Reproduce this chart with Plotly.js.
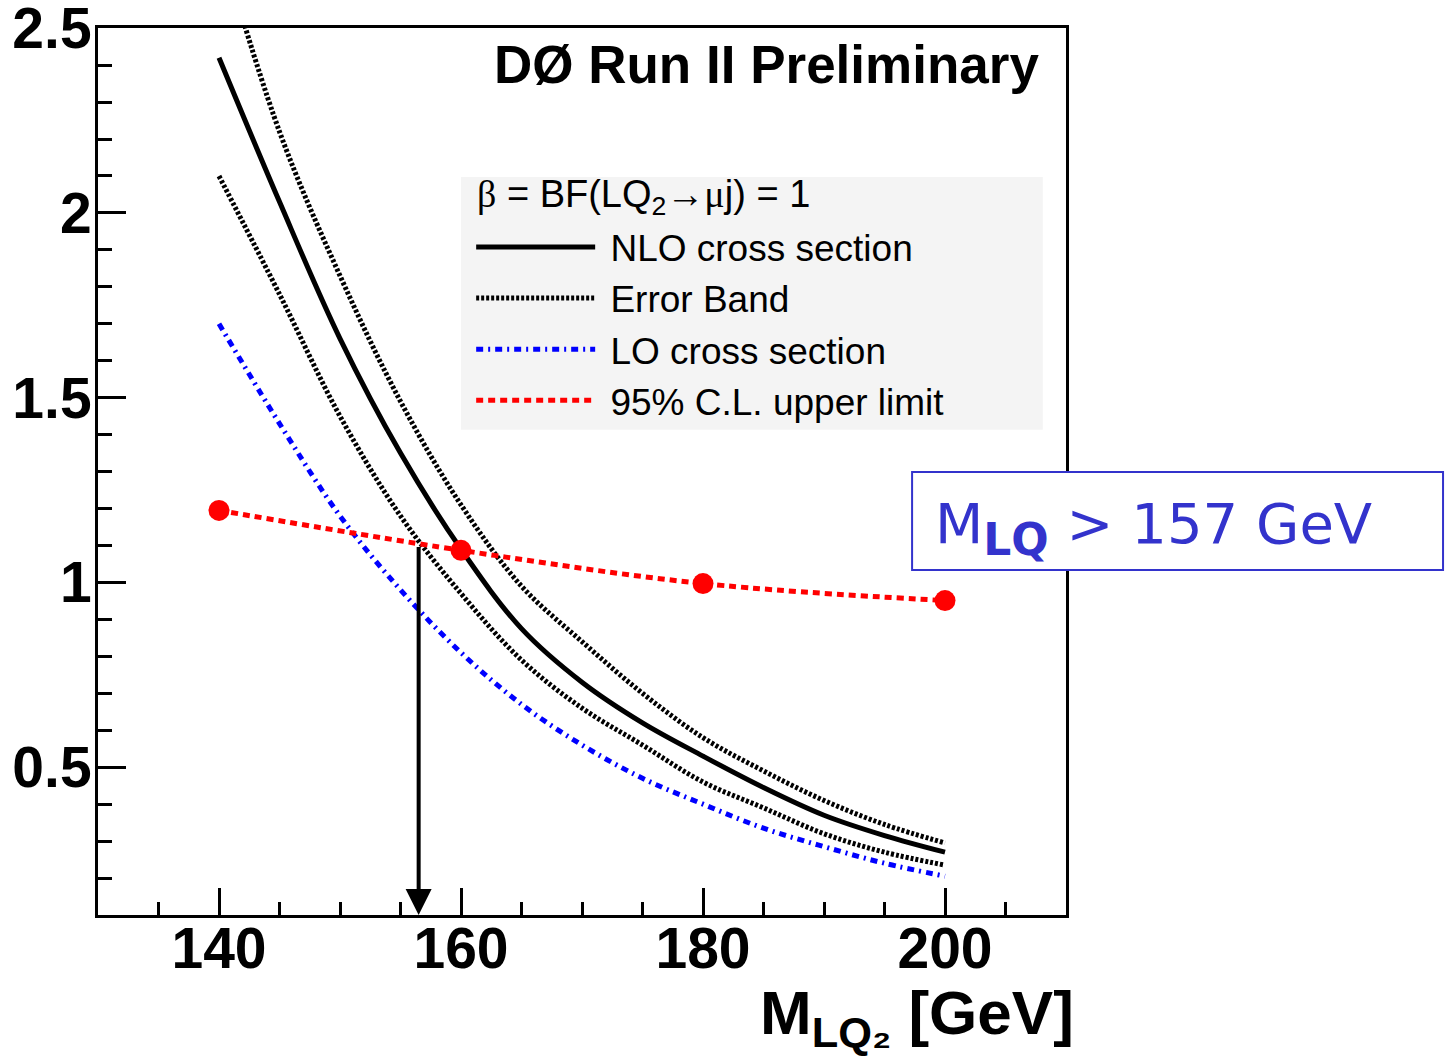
<!DOCTYPE html>
<html><head><meta charset="utf-8">
<script src="https://cdn.plot.ly/plotly-3.0.1.min.js"></script>
<style>html,body{margin:0;padding:0;background:#fff}</style>
</head><body>
<div id="chart" style="width:1447px;height:1059px"></div>
<script>
const massGrid = [140,145,150,155,160,165,170,175,180,185,190,195,200];
const nloXsec  = [2.42,2.03,1.66,1.35,1.09,0.875,0.73,0.62,0.53,0.445,0.37,0.315,0.27];
const errUpper = [2.74,2.22,1.83,1.49,1.21,0.99,0.84,0.70,0.58,0.49,0.41,0.345,0.295];
const errLower = [2.10,1.78,1.45,1.18,0.97,0.79,0.66,0.56,0.46,0.39,0.32,0.27,0.235];
const loXsec   = [1.70,1.43,1.18,0.98,0.81,0.67,0.56,0.47,0.40,0.335,0.285,0.24,0.205];
const limitMass = [140,160,180,200];
const limitXsec = [1.195,1.087,0.997,0.951];
const arrowMass = 156.5, arrowTop = 1.10, arrowBottom = 0.1;
const xTickVals = [140,160,180,200];
const yTickVals = [0.5,1,1.5,2,2.5];
const legendHeader = "<span style='font-family:Liberation Serif'>β</span> = BF(LQ<sub>2</sub>→<span style='font-family:Liberation Serif'>μ</span>j) = 1";
const names = ["NLO cross section","Error Band","LO cross section","95% C.L. upper limit"];
const pad = '\u00a0';

const traces = [
  {x:massGrid,y:nloXsec,mode:'lines',name:pad+names[0],line:{color:'#000',width:5,shape:'spline'}},
  {x:massGrid,y:errUpper,mode:'lines',name:pad+names[1],line:{color:'#000',width:5,dash:'3px,2px',shape:'spline'}},
  {x:massGrid,y:errLower,mode:'lines',name:pad+names[1],showlegend:false,line:{color:'#000',width:5,dash:'3px,2px',shape:'spline'}},
  {x:massGrid,y:loXsec,mode:'lines',name:pad+names[2],line:{color:'#0000ff',width:5,dash:'7px,5px,2px,5px',shape:'spline'}},
  {x:limitMass,y:limitXsec,mode:'lines',name:pad+names[3],line:{color:'#ff0000',width:5,dash:'7px,5px',shape:'spline'}},
  {x:limitMass,y:limitXsec,mode:'markers',showlegend:false,marker:{color:'#ff0000',size:21}}
];

const tickFont = {family:'Liberation Sans, Arial, sans-serif',size:57,weight:'bold',color:'#000'};
const layout = {
  width:1447,height:1059,
  margin:{l:98,r:381,t:28,b:144},
  paper_bgcolor:'#fff',plot_bgcolor:'rgba(0,0,0,0)',
  showlegend:true,
  xaxis:{range:[130,210],tickvals:xTickVals,ticks:'inside',ticklen:27,tickwidth:3,tickcolor:'#000',
    showline:true,linewidth:3,linecolor:'#000',mirror:true,showgrid:false,zeroline:false,
    tickfont:tickFont,ticklabelstandoff:-18,ticklabeloverflow:'allow',
    minor:{dtick:5,tick0:130,ticks:'inside',ticklen:13,tickwidth:3,tickcolor:'#000',showgrid:false}},
  yaxis:{range:[0.1,2.5005],tickvals:yTickVals,ticktext:yTickVals.map(String),ticks:'inside',ticklen:28,tickwidth:3,tickcolor:'#000',
    showline:true,linewidth:3,linecolor:'#000',mirror:true,showgrid:false,zeroline:false,
    tickfont:tickFont,ticklabelstandoff:-8,ticklabeloverflow:'allow',
    minor:{dtick:0.1,tick0:0,ticks:'inside',ticklen:14,tickwidth:3,tickcolor:'#000',showgrid:false}},
  legend:{x:0.3855,y:0.7876,xanchor:'left',yanchor:'top',bgcolor:'rgba(0,0,0,0)',borderwidth:0,
    itemwidth:119,font:{family:'Liberation Sans, Arial, sans-serif',size:37,color:'#000'},
    tracegroupgap:0},
  shapes:[
    {type:'rect',xref:'paper',yref:'paper',x0:0.375,x1:0.976,y0:0.547,y1:0.832,fillcolor:'#f4f4f4',line:{width:0},layer:'below'},
    {type:'rect',xref:'paper',yref:'paper',x0:0.841,x1:1.3895,y0:0.389,y1:0.4994,fillcolor:'#fff',line:{color:'#3333cc',width:2},layer:'above'}
  ],
  annotations:[
    {xref:'paper',yref:'paper',x:(475-98)/968,y:(915-197)/887,xanchor:'left',yanchor:'middle',showarrow:false,
      text:legendHeader,font:{family:'Liberation Sans, Arial, sans-serif',size:38,color:'#000'}},
    {xref:'x',yref:'y',axref:'x',ayref:'y',x:arrowMass,y:arrowBottom,ax:arrowMass,ay:arrowTop,text:'',showarrow:true,
      arrowhead:2,arrowsize:1.3,arrowwidth:4,arrowcolor:'#000'},
    {xref:'paper',yref:'paper',x:(1041-98)/968,y:(915-64)/887,xanchor:'right',yanchor:'middle',showarrow:false,
      text:'DØ Run II Preliminary',font:{family:'Liberation Sans, Arial, sans-serif',size:53,weight:'bold',color:'#000'}},
    {xref:'paper',yref:'paper',x:1.010,y:-0.115,xanchor:'right',yanchor:'middle',showarrow:false,
      text:'M<sub>LQ₂</sub> [GeV]',font:{family:'Liberation Sans, Arial, sans-serif',size:62,weight:'bold',color:'#000'}},
    {xref:'paper',yref:'paper',x:(933-98)/968,y:(915-528)/887,xanchor:'left',yanchor:'middle',showarrow:false,
      text:"M<sub><b><span style='font-size:44px'>LQ</span></b></sub> > 157 GeV",font:{family:'DejaVu Sans, Verdana, sans-serif',size:56,color:'#3333cc'}}
  ]
};
Plotly.newPlot('chart',traces,layout,{displayModeBar:false,staticPlot:true});
</script>
</body></html>
